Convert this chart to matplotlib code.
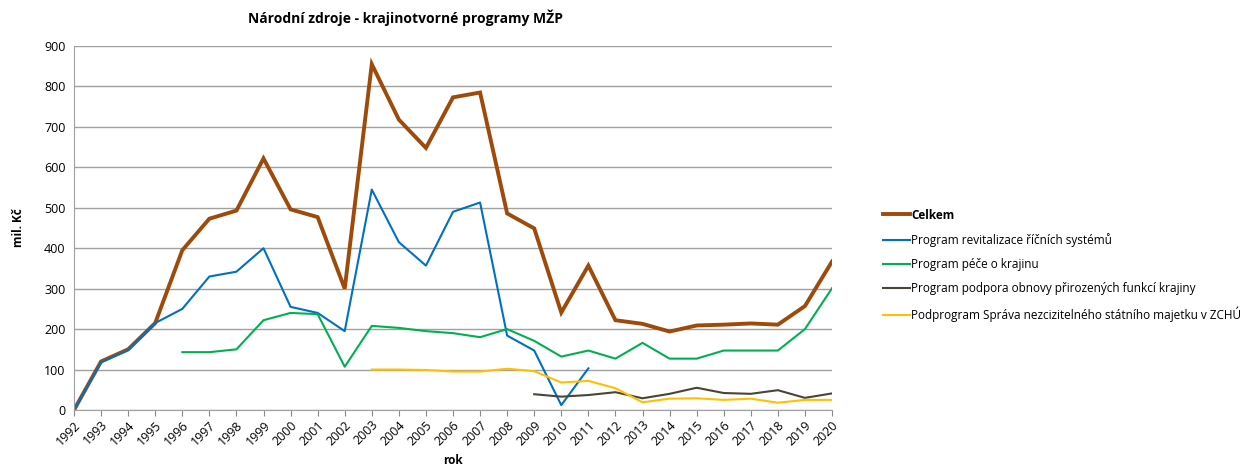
import matplotlib
matplotlib.use("Agg")
import matplotlib.pyplot as plt
import numpy as np

years = list(range(1992, 2021))
celkem = [0, 120, 150, 215, 395, 473, 493, 622, 496, 477, 300, 855, 718, 648, 773, 785,
          486, 449, 241, 357, 222, 213, 194, 209, 211, 214, 211, 257, 367]
revit_years = list(range(1992, 2012))
revit = [0, 118, 148, 215, 250, 330, 342, 400, 255, 240, 195, 545, 415, 357, 490, 513,
         184, 147, 12, 103]
pece_years = list(range(1996, 2021))
pece = [143, 143, 150, 222, 240, 237, 107, 208, 203, 195, 190, 180, 200, 171, 132, 147,
        127, 166, 127, 127, 147, 147, 147, 200, 301]
podpora_years = list(range(2009, 2021))
podpora = [39, 33, 37, 44, 29, 40, 55, 42, 40, 49, 30, 41]
sprava_years = list(range(2003, 2021))
sprava = [100, 100, 99, 95, 95, 102, 96, 68, 72, 54, 19, 28, 29, 25, 28, 18, 25, 25]

labels = ["Celkem", "Program revitalizace říčních systémů", "Program péče o krajinu",
          "Program podpora obnovy přirozených funkcí krajiny",
          "Podprogram Správa nezcizitelného státního majetku v ZCHÚ"]

plt.rcParams['font.family'] = ['Open Sans', 'DejaVu Sans']

fig = plt.figure(figsize=(12.55, 4.68), dpi=100)
ax = fig.add_axes([74/1255, 1-410/468, (832-74)/1255, (410-46)/468])

l1, = ax.plot(years, celkem, color="#9E4A0A", lw=2.8, solid_joinstyle='miter')
l2, = ax.plot(revit_years, revit, color="#0070C0", lw=1.5)
l3, = ax.plot(pece_years, pece, color="#00B050", lw=1.5)
l4, = ax.plot(podpora_years, podpora, color="#4A4534", lw=1.5)
l5, = ax.plot(sprava_years, sprava, color="#FFC000", lw=1.5)

ax.set_xlim(1992, 2020)
ax.set_ylim(0, 900)
ax.set_yticks(range(0, 901, 100))
ax.set_xticks(years)
ax.set_xticklabels([str(y) for y in years], rotation=45, ha='right', rotation_mode='anchor', fontsize=9)
ax.tick_params(axis='y', labelsize=9, length=0, pad=6)
ax.tick_params(axis='x', length=4, color='#888888', pad=2)
ax.grid(axis='y', color='#A0A0A0', lw=1)
ax.set_axisbelow(True)
for s in ['top', 'right']:
    ax.spines[s].set_visible(False)
ax.spines['left'].set_color('#A0A0A0')
ax.spines['bottom'].set_color('#A0A0A0')

ax.set_ylabel("mil. Kč", fontsize=8.5, fontweight='bold', labelpad=14)
fig.text(453/1255, 1-461/468, "rok", ha='center', va='center', fontsize=8.5, fontweight='bold')

fig.text(405/1255, 1-18/468, "Národní zdroje - krajinotvorné programy MŽP", ha='center', va='center',
         fontsize=10, fontweight='bold')

leg = fig.legend([l1, l2, l3, l4, l5], labels, loc='upper left',
                 bbox_to_anchor=(872/1255, 1-198/468), frameon=False, fontsize=8.5,
                 handlelength=2.3, handletextpad=0.1, labelspacing=0.95)
leg.get_texts()[0].set_fontweight('bold')

fig.savefig("out.png", dpi=100)
